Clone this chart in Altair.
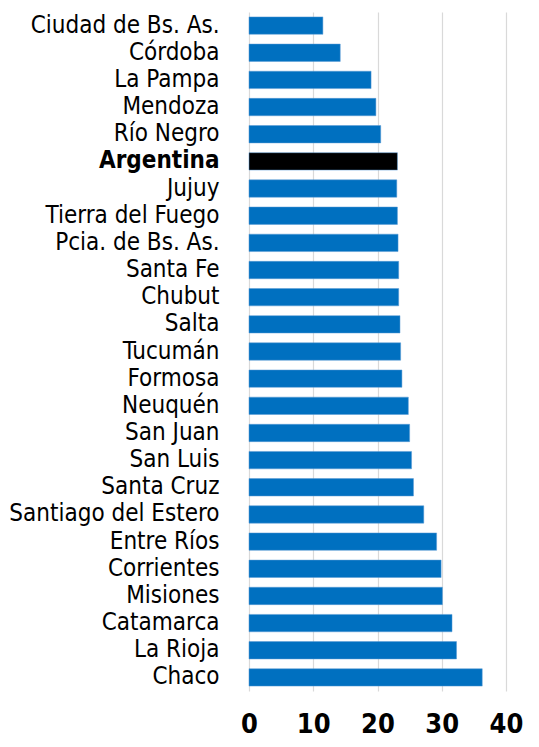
import altair as alt
import pandas as pd

provincias = ["Ciudad de Bs. As.", "Córdoba", "La Pampa", "Mendoza", "Río Negro",
              "Argentina", "Jujuy", "Tierra del Fuego", "Pcia. de Bs. As.", "Santa Fe",
              "Chubut", "Salta", "Tucumán", "Formosa", "Neuquén", "San Juan",
              "San Luis", "Santa Cruz", "Santiago del Estero", "Entre Ríos",
              "Corrientes", "Misiones", "Catamarca", "La Rioja", "Chaco"]
valores = [11.5, 14.2, 19.0, 19.75, 20.5,
           23.1, 23.0, 23.1, 23.2, 23.3,
           23.3, 23.5, 23.6, 23.8, 24.8, 25.0,
           25.3, 25.6, 27.2, 29.2,
           29.9, 30.1, 31.6, 32.3, 36.3]
ticks = [0, 10, 20, 30, 40]

df = pd.DataFrame({"provincia": provincias, "valor": valores})
df["pais"] = df["provincia"] == "Argentina"

font = "DejaVu Sans Condensed, Roboto, sans-serif"

chart = alt.Chart(df).mark_bar(stroke="#5b9bd5", strokeWidth=0.5).encode(
    y=alt.Y("provincia:N", sort=provincias, title=None,
            scale=alt.Scale(paddingInner=0.36, paddingOuter=0.18),
            axis=alt.Axis(labelFont=font, labelFontSize=24, labelColor="#000000",
                          labelFontWeight=alt.condition("datum.value == 'Argentina'",
                                                        alt.value("bold"), alt.value("normal")),
                          labelPadding=30, ticks=False, domain=False, grid=False,
                          labelLimit=400)),
    x=alt.X("valor:Q", title=None,
            scale=alt.Scale(domain=[0, 40], nice=False),
            axis=alt.Axis(values=ticks, labelFont=font, labelFontSize=27,
                          labelFontWeight="bold", labelColor="#000000",
                          labelPadding=20, ticks=False, domain=False,
                          grid=True, gridColor="#d9d9d9", gridWidth=1.2,
                          labelFlush=False)),
    color=alt.Color("pais:N", scale=alt.Scale(domain=[False, True], range=["#0070c0", "#000000"]),
                    legend=None),
).properties(width=257, height=679, padding={"left": 0, "top": 4, "right": 5, "bottom": 0}
).configure_view(stroke=None)

chart.save("out.html", embed_options={"renderer": "svg", "actions": False})
